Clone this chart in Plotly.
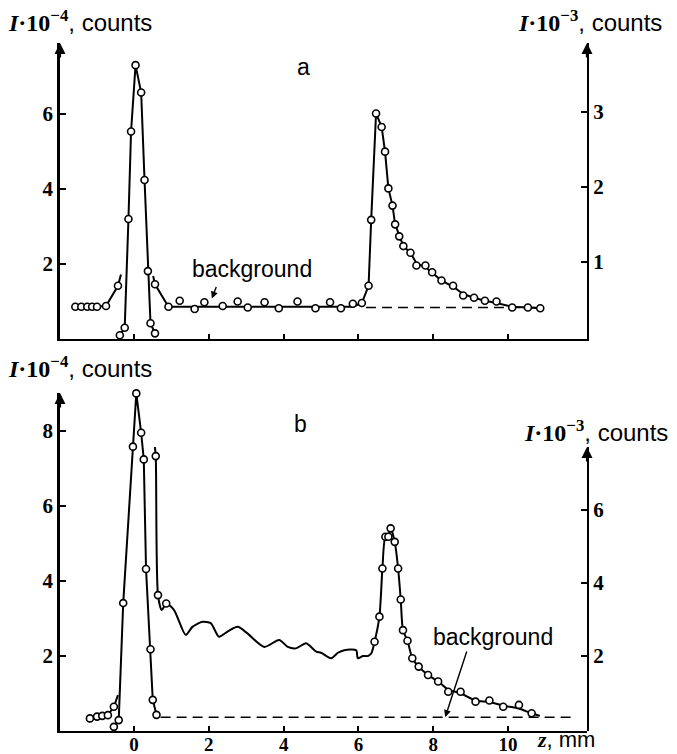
import plotly.graph_objects as go

# ---------------- data ----------------
# panel a: direct (narrow) peak, left axis (I*1e-4)
za_peak = [-0.38, -0.25, -0.15, -0.08, 0.04, 0.19, 0.28, 0.37, 0.44, 0.56]
ia_peak = [0.10, 0.30, 3.20, 5.53, 7.30, 6.57, 4.24, 1.81, 0.42, 0.15]

# panel a: low-intensity curve, right axis (I*1e-3)
za_wing = [-1.57, -1.41, -1.25, -1.12, -0.99, -0.75, -0.43, -0.35]
ia_wing = [0.40, 0.40, 0.40, 0.40, 0.40, 0.41, 0.68, 0.83]
wing_a_mark = [1, 1, 1, 1, 1, 1, 1, 0]

za_pts = [0.56, 0.92, 1.22, 1.62, 1.88, 2.37, 2.77, 3.04, 3.49, 3.87, 4.37, 4.85,
          5.24, 5.53, 5.85, 6.09, 6.27, 6.34, 6.47, 6.62, 6.71, 6.80, 6.91, 6.98,
          7.09, 7.20, 7.39, 7.55, 7.79, 7.97, 8.22, 8.53, 8.80, 9.09, 9.38, 9.69,
          10.11, 10.53, 10.86]
ia_pts = [0.70, 0.40, 0.48, 0.37, 0.46, 0.41, 0.47, 0.39, 0.46, 0.38, 0.47, 0.38,
          0.46, 0.38, 0.44, 0.45, 0.68, 1.56, 2.98, 2.80, 2.47, 1.98, 1.75, 1.50,
          1.34, 1.21, 1.12, 0.95, 0.95, 0.86, 0.75, 0.68, 0.55, 0.52, 0.48, 0.47,
          0.39, 0.39, 0.38]
# smooth line drawn through the points
za_line = [0.51, 0.56, 0.92, 5.85, 6.09, 6.27, 6.34, 6.47, 6.62, 6.71, 6.80, 6.91,
           6.98, 7.09, 7.20, 7.39, 7.55, 7.79, 7.97, 8.22, 8.53, 8.80, 9.09, 9.38,
           9.69, 10.11, 10.53, 10.86]
ia_line = [0.81, 0.70, 0.40, 0.40, 0.45, 0.68, 1.56, 2.98, 2.80, 2.47, 1.98, 1.75,
           1.50, 1.34, 1.21, 1.12, 0.98, 0.93, 0.86, 0.75, 0.67, 0.57, 0.52, 0.48,
           0.45, 0.40, 0.39, 0.38]
za_bg = [6.2, 10.9]
ia_bg = [0.39, 0.39]

# panel b: direct peak, left axis (I*1e-4)
zb_peak = [-0.54, -0.41, -0.29, -0.03, 0.06, 0.19, 0.26, 0.32, 0.44, 0.50, 0.60]
ib_peak = [0.11, 0.29, 3.41, 7.58, 9.00, 7.95, 7.24, 4.32, 2.18, 0.83, 0.43]

# panel b: low-intensity curve, right axis (I*1e-3)
zb_wing = [-1.18, -0.99, -0.85, -0.70, -0.54, -0.43]
ib_wing = [0.29, 0.34, 0.36, 0.38, 0.61, 0.93]
wing_b_mark = [1, 1, 1, 1, 1, 0]

zb_pts = [0.58, 0.64, 0.86, 6.43, 6.56, 6.64, 6.72, 6.80, 6.86, 6.97, 7.06, 7.13,
          7.19, 7.31, 7.44, 7.61, 7.86, 8.13, 8.40, 8.73, 9.13, 9.50, 9.87, 10.29,
          10.63]
ib_pts = [7.48, 3.67, 3.44, 2.39, 3.08, 4.40, 5.27, 5.27, 5.50, 5.13, 4.40, 3.55,
          2.71, 2.42, 1.94, 1.71, 1.48, 1.30, 1.02, 1.02, 0.75, 0.78, 0.61, 0.66,
          0.43]
zb_line = [0.55, 0.58, 0.64, 0.74, 0.86, 1.07, 1.38, 1.56, 1.83, 2.05, 2.27, 2.50,
           2.77, 3.03, 3.48, 3.88, 4.11, 4.33, 4.60, 4.87, 5.00, 5.27, 5.45, 5.62,
           5.94, 5.98, 6.12, 6.25, 6.34, 6.43, 6.56, 6.64, 6.72, 6.80, 6.86, 6.97,
           7.06, 7.13, 7.19, 7.31, 7.44, 7.61, 7.86, 8.13, 8.40, 8.73, 9.13, 9.50,
           9.87, 10.29, 10.63, 10.85]
ib_line = [7.80, 7.48, 3.67, 3.26, 3.44, 3.26, 2.58, 2.80, 2.94, 2.90, 2.53, 2.67,
           2.80, 2.62, 2.25, 2.44, 2.25, 2.21, 2.35, 2.12, 2.09, 1.94, 2.09, 2.16,
           2.16, 1.94, 2.00, 2.00, 2.07, 2.39, 3.08, 4.40, 5.27, 5.30, 5.50, 5.13,
           4.40, 3.55, 2.71, 2.42, 1.94, 1.71, 1.48, 1.30, 1.08, 0.98, 0.78, 0.74,
           0.64, 0.56, 0.43, 0.36]
zb_bg = [0.71, 11.7]
ib_bg = [0.32, 0.32]

xticks = [0, 2, 4, 6, 8, 10]

# ---------------- layout helpers ----------------
W, H = 677, 754
L, R, T, B = 60, 90, 43, 23
PW, PH = W - L - R, H - T - B


def fx(p):
    return (p - L) / PW


def fy(p):
    return (H - B - p) / PH


BLACK = "black"
SERIF = "Liberation Serif"
SANS = "Liberation Sans"

mk = dict(symbol="circle", size=7, color="white", line=dict(color=BLACK, width=1.6))

fig = go.Figure()


def add(x, y, xa, ya, mode, marks=None, dash=None, shape="linear", width=2.0):
    m = dict(mk)
    if marks is not None:
        m["opacity"] = marks
    fig.add_trace(go.Scatter(
        x=x, y=y, xaxis=xa, yaxis=ya, mode=mode,
        line=dict(color=BLACK, width=width, dash=dash, shape=shape,
                  smoothing=0.7 if shape == "spline" else None),
        marker=m, hoverinfo="skip", cliponaxis=False))


# panel a
add(za_peak, ia_peak, "x", "y", "lines+markers")
add(za_wing, ia_wing, "x", "y2", "lines+markers", marks=wing_a_mark)
add(za_line, ia_line, "x", "y2", "lines")
add(za_bg, ia_bg, "x", "y2", "lines", dash="10px,6px", width=1.6)
add(za_pts, ia_pts, "x", "y2", "markers")

# panel b
add(zb_peak, ib_peak, "x2", "y3", "lines+markers")
add(zb_wing, ib_wing, "x2", "y4", "lines+markers", marks=wing_b_mark)
add(zb_line, ib_line, "x2", "y4", "lines", shape="spline")
add(zb_bg, ib_bg, "x2", "y4", "lines", dash="10px,6px", width=1.6)
add(zb_pts, ib_pts, "x2", "y4", "markers")

tickfont = dict(family=SERIF, size=21, color=BLACK, weight="bold")
xtickfont = dict(family=SERIF, size=19, color=BLACK, weight="bold")
xr = [-1.98, 12.11]
common = dict(showgrid=False, zeroline=False, showline=True, linecolor=BLACK,
              ticks="inside", tickcolor=BLACK, automargin=False)

fig.update_layout(
    width=W, height=H, margin=dict(l=L, r=R, t=T, b=B, autoexpand=False),
    paper_bgcolor="white", plot_bgcolor="rgba(0,0,0,0)", showlegend=False,
    xaxis=dict(domain=[0, 1], anchor="y", range=xr, tickvals=xticks,
               showticklabels=False, linewidth=2, ticklen=5, tickwidth=2, **common),
    yaxis=dict(domain=[fy(339), 1], anchor="x", range=[0, 7.89], tickvals=[2, 4, 6],
               linewidth=2.5, ticklen=6, tickwidth=2, tickfont=tickfont, **common),
    yaxis2=dict(overlaying="y", side="right", anchor="x", range=[-0.03, 3.92],
                tickvals=[1, 2, 3], linewidth=2, ticklen=6, tickwidth=2,
                tickfont=tickfont, **common),
    xaxis2=dict(domain=[0, 1], anchor="y3", range=xr, tickvals=xticks,
                linewidth=2, ticklen=5, tickwidth=2, ticklabelstandoff=-5,
                tickfont=xtickfont, **common),
    yaxis3=dict(domain=[0, fy(393)], anchor="x2", range=[0, 9.01],
                tickvals=[2, 4, 6, 8], linewidth=2.5, ticklen=6, tickwidth=2,
                tickfont=tickfont, **common),
    yaxis4=dict(domain=[0, fy(447)], anchor="x2", side="right", range=[-0.055, 7.73],
                tickvals=[2, 4, 6], linewidth=2, ticklen=6, tickwidth=2,
                tickfont=tickfont, **common),
)

ann = []
# axis arrows
for (x, y) in [(0, 1), (1, 1), (0, fy(393)), (1, fy(447))]:
    ann.append(dict(xref="paper", yref="paper", x=x, y=y, ax=0, ay=16, text="",
                    showarrow=True, arrowhead=2, arrowsize=1, arrowwidth=2.2,
                    arrowcolor=BLACK))


def title(exp):
    return (f"<span style='font-family:{SERIF}'><b><i>I</i>·10<sup>−{exp}</sup></b></span>"
            f"<span style='font-family:{SANS}'>, counts</span>")


def txt(text, x, y, xanchor="center", size=24):
    ann.append(dict(xref="paper", yref="paper", x=fx(x), y=fy(y), text=text,
                    showarrow=False, xanchor=xanchor, yanchor="middle",
                    font=dict(family=SANS, size=size, color=BLACK)))


txt(title(4), 6, 21, "left")
txt(title(3), 516, 21, "left")
txt(title(4), 6, 367, "left")
txt(title(3), 522, 431, "left")
txt("a", 303, 67, size=23)
txt("b", 300, 424, size=23)
txt("background", 252, 269, size=23)
txt("background", 493, 637, size=23)
txt(f"<span style='font-family:{SERIF}'><b><i>z</i></b></span>, mm", 535, 739, "left",
    size=22)

# background arrows
ann.append(dict(xref="x", yref="y2", x=2.08, y=0.51, ax=5, ay=-13, text="",
                showarrow=True, arrowhead=2, arrowsize=1, arrowwidth=1.4, arrowcolor=BLACK))
ann.append(dict(xref="x2", yref="y4", x=8.32, y=0.33, ax=22, ay=-67, text="",
                showarrow=True, arrowhead=2, arrowsize=1, arrowwidth=1.4, arrowcolor=BLACK))

fig.update_layout(annotations=ann)
fig.write_html("out.html", config={"displayModeBar": False},
               post_script="document.body.style.margin='0';document.body.style.overflow='hidden';")
